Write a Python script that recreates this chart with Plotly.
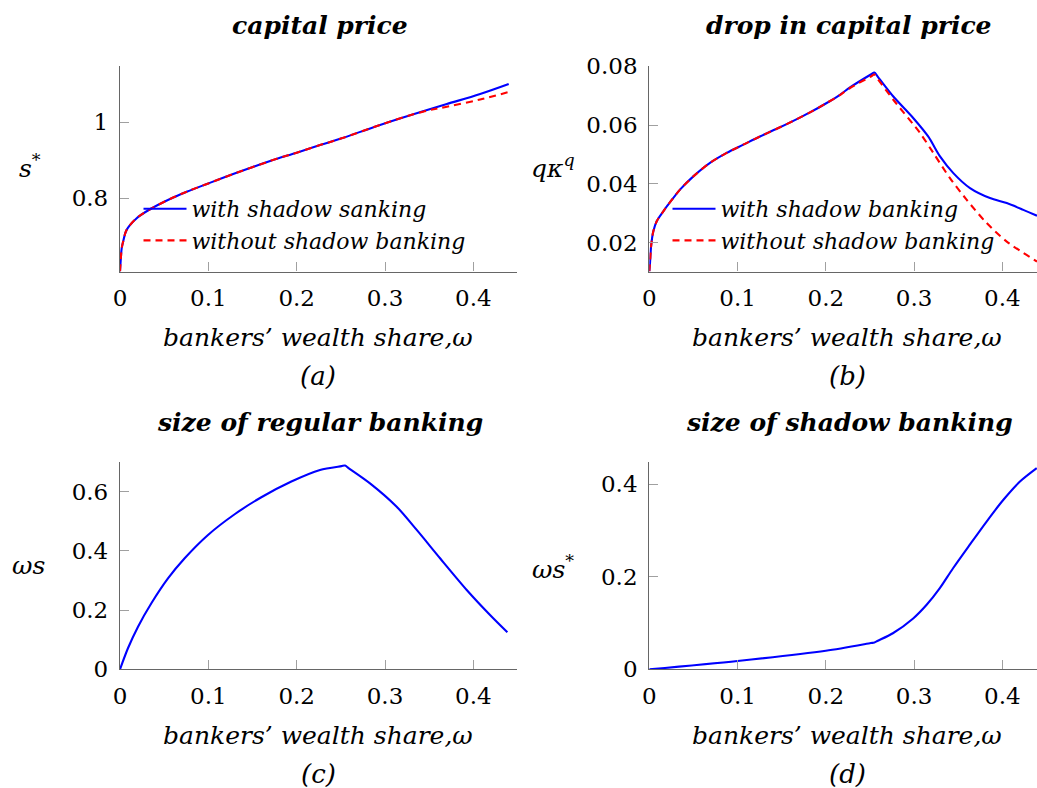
import plotly.graph_objects as go

# ---------------- data ----------------
# (a) capital price
xa = [0, 0.0011, 0.0019, 0.0038, 0.0075, 0.0189, 0.034, 0.0566, 0.0755, 0.1, 0.132, 0.17, 0.2,
      0.2264, 0.25, 0.2944, 0.343, 0.37, 0.4077, 0.44]
sa_with = [0.607, 0.646, 0.668, 0.688, 0.7166, 0.7474, 0.771, 0.798, 0.817, 0.839, 0.867, 0.898,
           0.920, 0.940, 0.957, 0.993, 1.029, 1.048, 1.0745, 1.1008]
sa_without = [0.607, 0.646, 0.668, 0.688, 0.7166, 0.7474, 0.771, 0.798, 0.817, 0.839, 0.867, 0.898,
              0.920, 0.940, 0.957, 0.993, 1.028, 1.041, 1.060, 1.0797]

# (b) drop in capital price
xb_with = [0, 0.0008, 0.002, 0.0045, 0.0084, 0.0159, 0.0235, 0.0348, 0.0499, 0.0688, 0.0877,
           0.1065, 0.1254, 0.1444, 0.1632, 0.1821, 0.201, 0.216, 0.2274, 0.251, 0.255, 0.259,
           0.2765, 0.299, 0.316, 0.3294, 0.3445, 0.3634, 0.386, 0.405, 0.4238, 0.4393]
qk_with = [0.0101, 0.013, 0.0186, 0.0237, 0.0272, 0.0306, 0.0337, 0.0380, 0.0425, 0.0471, 0.0505,
           0.0533, 0.0561, 0.0587, 0.0614, 0.0643, 0.0675, 0.0703, 0.0728, 0.0772, 0.0779, 0.0764,
           0.0697, 0.0624, 0.0561, 0.0493, 0.0436, 0.0385, 0.0351, 0.0334, 0.0311, 0.0291]
xb_without = [0, 0.0008, 0.002, 0.0045, 0.0084, 0.0159, 0.0235, 0.0348, 0.0499, 0.0688, 0.0877,
              0.1065, 0.1254, 0.1444, 0.1632, 0.1821, 0.201, 0.216, 0.2274, 0.251, 0.255, 0.259,
              0.2765, 0.3067, 0.3218, 0.3407, 0.3597, 0.3823, 0.405, 0.4393]
qk_without = [0.0101, 0.013, 0.0186, 0.0237, 0.0272, 0.0306, 0.0337, 0.0380, 0.0425, 0.0471, 0.0505,
              0.0533, 0.0561, 0.0587, 0.0614, 0.0643, 0.0675, 0.0702, 0.0726, 0.0765, 0.0772, 0.0756,
              0.0686, 0.0573, 0.0505, 0.0419, 0.0345, 0.0266, 0.0203, 0.0135]

# (c) size of regular banking
xc = [0, 0.009, 0.0204, 0.0355, 0.0543, 0.0732, 0.0996, 0.1298, 0.16, 0.194, 0.2264, 0.2507,
      0.2547, 0.2587, 0.283, 0.3132, 0.3359, 0.3623, 0.3925, 0.4189, 0.4385]
ws_reg = [0, 0.071, 0.144, 0.223, 0.307, 0.375, 0.4537, 0.5236, 0.581, 0.634, 0.673, 0.686,
          0.688, 0.6795, 0.628, 0.549, 0.4706, 0.375, 0.268, 0.1834, 0.125]

# (d) size of shadow banking
xd = [0, 0.1, 0.2, 0.251, 0.255, 0.259, 0.276, 0.299, 0.314, 0.329, 0.344, 0.363, 0.382, 0.401,
      0.42, 0.439]
ws_sh = [0, 0.018, 0.040, 0.0567, 0.058, 0.0618, 0.078, 0.110, 0.139, 0.175, 0.218, 0.269,
         0.319, 0.366, 0.406, 0.435]

x_ticks = [0, 0.1, 0.2, 0.3, 0.4]
x_ticktext = ["0", "0.1", "0.2", "0.3", "0.4"]

titles = ["capital price", "drop in capital price", "size of regular banking", "size of shadow banking"]
panel_tags = ["(a)", "(b)", "(c)", "(d)"]
ylabels = ["<i>s</i><sup>*</sup>", "<i>qκ</i><sup><i>q</i></sup>", "<i>ωs</i>", "<i>ωs</i><sup>*</sup>"]
xlabel = "<i>bankers’ wealth share,ω</i>"

# ---------------- figure ----------------
W, H = 1037, 788
FONT = "DejaVu Serif"
BLUE = "#0000ff"
RED = "#ff0000"

fig = go.Figure()

def ln(color, smooth, dash=None):
    d = dict(color=color, width=2.1, shape="spline", smoothing=smooth)
    if dash:
        d["dash"] = dash
    return d

fig.add_trace(go.Scatter(x=xa, y=sa_with, mode="lines", name="<i>with shadow sanking</i>",
                         line=ln(BLUE, 1.0), xaxis="x", yaxis="y", legend="legend"))
fig.add_trace(go.Scatter(x=xa, y=sa_without, mode="lines", name="<i>without shadow banking</i>",
                         line=ln(RED, 1.0, "7px,5px"), xaxis="x", yaxis="y", legend="legend"))
fig.add_trace(go.Scatter(x=xb_with, y=qk_with, mode="lines", name="<i>with shadow banking</i>",
                         line=ln(BLUE, 0.8), xaxis="x2", yaxis="y2", legend="legend2"))
fig.add_trace(go.Scatter(x=xb_without, y=qk_without, mode="lines", name="<i>without shadow banking</i>",
                         line=ln(RED, 0.8, "7px,5px"), xaxis="x2", yaxis="y2", legend="legend2"))
fig.add_trace(go.Scatter(x=xc, y=ws_reg, mode="lines", showlegend=False,
                         line=ln(BLUE, 0.8), xaxis="x3", yaxis="y3"))
fig.add_trace(go.Scatter(x=xd, y=ws_sh, mode="lines", showlegend=False,
                         line=ln(BLUE, 0.8), xaxis="x4", yaxis="y4"))

def px_x(p):
    return p / W

def px_y(p):
    return 1 - p / H

left_dom = [px_x(120), px_x(517)]
right_dom = [px_x(649.3), 1.0]
top_dom = [px_y(271.5), px_y(65.7)]
bot_dom = [px_y(669.3), px_y(462.3)]

axis_common = dict(showgrid=False, zeroline=False, showline=True, linecolor="#666666",
                   linewidth=1.3, ticks="inside", ticklen=9, tickcolor="#a0a0a0", tickwidth=1.2,
                   tickfont=dict(family=FONT, size=23, color="black"), mirror=False,
                   automargin=False)

def xax(dom, rng, anchor):
    d = dict(axis_common)
    d.update(domain=dom, range=rng, anchor=anchor, tickmode="array", tickvals=x_ticks,
             ticktext=x_ticktext, ticklabelstandoff=6)
    return d

def yax(dom, rng, anchor, tv, tt):
    d = dict(axis_common)
    d.update(domain=dom, range=rng, anchor=anchor, tickmode="array", tickvals=tv, ticktext=tt,
             ticklabelstandoff=6)
    return d

legend_font = dict(family=FONT, size=22, color="black")

fig.update_layout(
    template="none",
    width=W, height=H, autosize=False,
    margin=dict(l=0, r=0, t=0, b=0, pad=0),
    paper_bgcolor="white", plot_bgcolor="white",
    font=dict(family=FONT, color="black"),
    xaxis=xax(left_dom, [0, 0.4494], "y"),
    yaxis=yax(top_dom, [0.607, 1.149], "x", [0.8, 1.0], ["0.8", "1"]),
    xaxis2=xax(right_dom, [0, 0.4393], "y2"),
    yaxis2=yax(top_dom, [0.0101, 0.0802], "x2", [0.02, 0.04, 0.06, 0.08],
               ["0.02", "0.04", "0.06", "0.08"]),
    xaxis3=xax(left_dom, [0, 0.4494], "y3"),
    yaxis3=yax(bot_dom, [0, 0.699], "x3", [0, 0.2, 0.4, 0.6], ["0", "0.2", "0.4", "0.6"]),
    xaxis4=xax(right_dom, [0, 0.4393], "y4"),
    yaxis4=yax(bot_dom, [0, 0.4476], "x4", [0, 0.2, 0.4], ["0", "0.2", "0.4"]),
    legend=dict(x=px_x(138.5), y=px_y(188), xanchor="left", yanchor="top",
                bgcolor="rgba(0,0,0,0)", borderwidth=0, itemwidth=43, tracegroupgap=0,
                font=legend_font),
    legend2=dict(x=px_x(667.5), y=px_y(188), xanchor="left", yanchor="top",
                 bgcolor="rgba(0,0,0,0)", borderwidth=0, itemwidth=43, tracegroupgap=0,
                 font=legend_font),
)

# text annotations: titles, axis labels, panel tags
cx = [318, 847, 318, 847]
title_y = [25, 25, 422, 422]
xlab_y = [337, 337, 735, 735]
tag_y = [376, 376, 774, 774]
ylab_pos = [(30, 167), (553, 167), (28, 565), (553, 567)]

for i in range(4):
    fig.add_annotation(text="<b><i>" + titles[i] + "</i></b>", x=px_x(cx[i] + 2), y=px_y(title_y[i]),
                       xref="paper", yref="paper", showarrow=False, xanchor="center", yanchor="middle",
                       font=dict(family=FONT, size=25, color="black"))
    fig.add_annotation(text=xlabel, x=px_x(cx[i]), y=px_y(xlab_y[i]), xref="paper", yref="paper",
                       showarrow=False, xanchor="center", yanchor="middle",
                       font=dict(family=FONT, size=25, color="black"))
    fig.add_annotation(text="<i>" + panel_tags[i] + "</i>", x=px_x(cx[i]), y=px_y(tag_y[i]),
                       xref="paper", yref="paper", showarrow=False, xanchor="center", yanchor="middle",
                       font=dict(family=FONT, size=26, color="black"))
    fig.add_annotation(text=ylabels[i], x=px_x(ylab_pos[i][0]), y=px_y(ylab_pos[i][1]),
                       xref="paper", yref="paper", showarrow=False, xanchor="center", yanchor="middle",
                       font=dict(family=FONT, size=25, color="black"))

fig.write_html("out.html", config={"displayModeBar": False},
               post_script="document.body.style.margin='0';document.body.style.overflow='hidden';")
